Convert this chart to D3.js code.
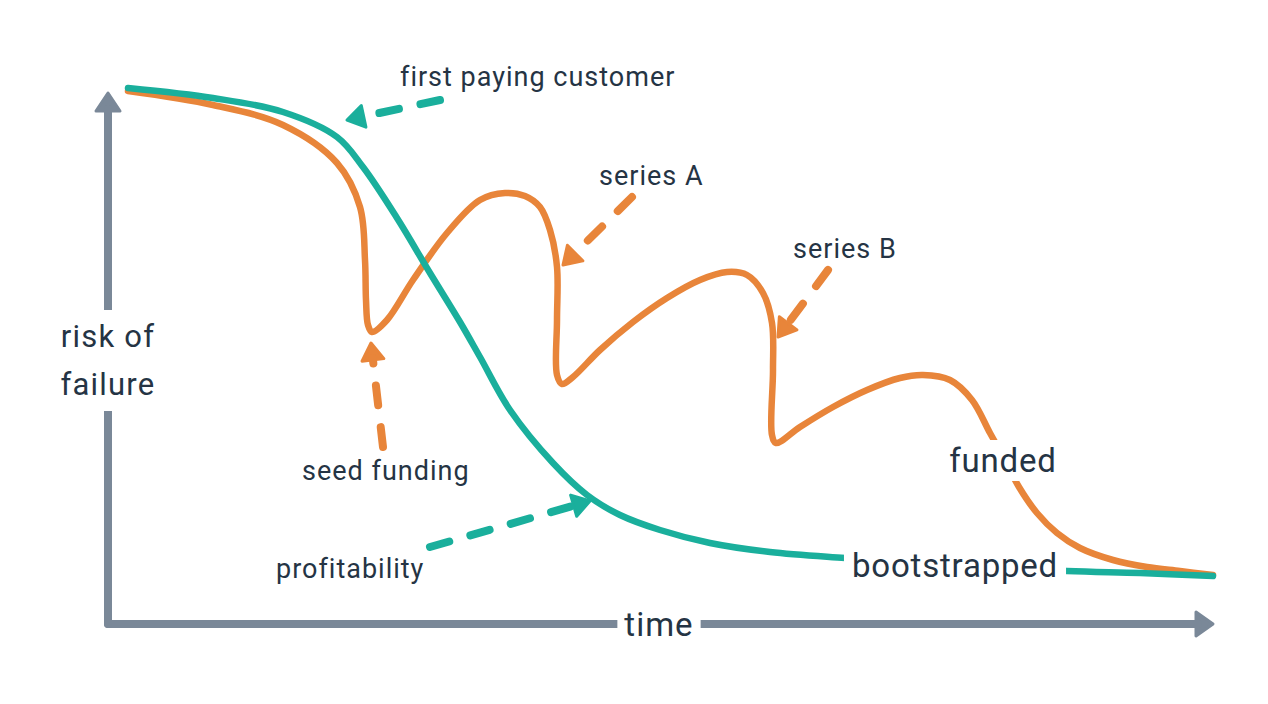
<!DOCTYPE html>
<html>
<head>
<meta charset="utf-8">
<script src="https://cdn.jsdelivr.net/npm/d3@7"></script>
<style>
  html, body { margin: 0; padding: 0; background: #ffffff; }
  svg { display: block; }
</style>
</head>
<body>
<svg id="chart" width="1268" height="704"></svg>
<script>
// ---------- DATA (time units on x, risk units on y) ----------
const bootstrappedTime = [2.0, 10.5, 17.5, 22.9, 25.5, 28.9, 32.2, 35.2, 37.2, 40.2, 44.5, 47.9, 51.2, 55.2, 60.2, 66.2, 73.7, 84.7, 95.9, 103.2, 110.5];
const bootstrappedRisk = [107.2, 105.2, 102.4, 97.4, 91.4, 81.2, 70.2, 60.4, 53.4, 42.8, 32.2, 25.8, 21.8, 18.8, 16.2, 14.4, 13.2, 11.8, 10.6, 10.2, 9.6];

const fundedTime = [2.0, 10.5, 17.5, 22.9, 25.2, 25.7, 25.8, 26.0, 26.4, 27.9, 30.5, 33.9, 37.2, 39.7, 41.7, 43.2, 44.2, 44.9, 44.9, 44.9, 45.4, 46.5, 49.2, 52.5, 55.9, 59.2, 61.9, 63.9, 65.5, 66.4, 66.5, 66.4, 66.8, 69.2, 72.5, 75.9, 79.2, 81.5, 84.2, 86.4, 88.2, 89.7, 91.1, 92.9, 94.9, 97.2, 100.5, 103.9, 107.2, 110.5];
const fundedRisk = [106.6, 103.8, 99.8, 92.2, 83.4, 72.8, 64.8, 59.8, 58.4, 60.8, 68.8, 78.2, 84.8, 86.2, 85.6, 83.4, 78.8, 71.4, 60.8, 49.8, 48.0, 49.4, 54.8, 60.4, 65.2, 68.8, 70.4, 69.8, 66.2, 60.2, 50.8, 37.8, 36.2, 39.4, 43.4, 46.8, 49.2, 49.8, 48.8, 44.8, 38.2, 32.8, 27.4, 22.2, 18.2, 15.2, 12.8, 11.4, 10.6, 9.8];

// annotations: label, text anchor point, arrow start, arrow tip (data units)
const annotationLabels = ["first paying customer", "series A", "series B", "seed funding", "profitability"];
const annotationTextTime = [29.2, 49.1, 68.5, 19.4, 16.8];
const annotationTextRisk = [107.6, 87.8, 73.2, 28.8, 9.2];
const annotationFromTime = [33.2, 52.4, 72.0, 27.5, 32.2];
const annotationFromRisk = [104.8, 85.4, 70.8, 35.4, 15.4];
const annotationToTime = [23.9, 45.5, 67.0, 26.3, 48.2];
const annotationToRisk = [100.8, 71.8, 57.4, 56.2, 24.6];
const annotationSeries = ["bootstrapped", "funded", "funded", "funded", "bootstrapped"];

const seriesNames = ["funded", "bootstrapped"];
const seriesLabelTime = [89.5, 84.7];
const seriesLabelRisk = [30.4, 9.4];

const axisTitleX = "time";
const axisTitleY = ["risk of", "failure"];
const axisEndTime = 110.5;
const axisEndRisk = 106.2;

// ---------- STYLE ----------
const COLORS = { bootstrapped: "#1aaf9c", funded: "#e8853a" };
const AXIS_COLOR = "#7a8898";
const TEXT_COLOR = "#253444";
const FONT = "Roboto, 'Open Sans', sans-serif";

const svg = d3.select("#chart");
const x = d3.scaleLinear().domain([0, 110]).range([108, 1208]);
const y = d3.scaleLinear().domain([0, 110]).range([624, 74]);

function arrowHead(g, x0, y0, x1, y1, len, half, color) {
  const dx = x1 - x0, dy = y1 - y0, d = Math.hypot(dx, dy);
  const ux = dx / d, uy = dy / d, nx = -uy, ny = ux;
  const bx = x1 - ux * len, by = y1 - uy * len;
  g.append("path")
    .attr("d", `M${x1},${y1}L${bx + nx * half},${by + ny * half}L${bx - nx * half},${by - ny * half}Z`)
    .attr("fill", color).attr("stroke", color)
    .attr("stroke-width", 3).attr("stroke-linejoin", "round");
  return [bx + ux * 2, by + uy * 2];
}

// ---------- AXES ----------
const axisG = svg.append("g");
const xEnd = arrowHead(axisG, x(0), y(0), x(axisEndTime), y(0), 17, 12, AXIS_COLOR);
axisG.append("line")
  .attr("x1", x(0)).attr("y1", y(0)).attr("x2", xEnd[0]).attr("y2", y(0))
  .attr("stroke", AXIS_COLOR).attr("stroke-width", 8).attr("stroke-linecap", "round");
const yEnd = arrowHead(axisG, x(0), y(0), x(0), y(axisEndRisk), 18, 12, AXIS_COLOR);
axisG.append("line")
  .attr("x1", x(0)).attr("y1", y(0)).attr("x2", x(0)).attr("y2", yEnd[1])
  .attr("stroke", AXIS_COLOR).attr("stroke-width", 8).attr("stroke-linecap", "round");

// ---------- SERIES ----------
const line = d3.line().x(d => x(d[0])).y(d => y(d[1])).curve(d3.curveCatmullRom.alpha(0.5));
const fundedPts = fundedTime.map((t, i) => [t, fundedRisk[i]]);
const bootPts = bootstrappedTime.map((t, i) => [t, bootstrappedRisk[i]]);

svg.append("path").datum(fundedPts).attr("d", line)
  .attr("fill", "none").attr("stroke", COLORS.funded).attr("stroke-width", 6.5)
  .attr("stroke-linecap", "round").attr("stroke-linejoin", "round");
svg.append("path").datum(bootPts).attr("d", line)
  .attr("fill", "none").attr("stroke", COLORS.bootstrapped).attr("stroke-width", 6.5)
  .attr("stroke-linecap", "round").attr("stroke-linejoin", "round");

// ---------- MASKED LABELS (series names and axis titles) ----------
const maskG = svg.append("g");
const labelG = svg.append("g");

function maskedLabel(lines, cx, baseline, size, spacing, padX, padY, lineGap) {
  const t = labelG.append("text")
    .attr("text-anchor", "middle")
    .attr("font-family", FONT).attr("font-size", size)
    .attr("letter-spacing", spacing)
    .attr("fill", TEXT_COLOR);
  lines.forEach((s, i) => {
    t.append("tspan").attr("x", cx).attr("y", baseline + i * lineGap).text(s);
  });
  const b = t.node().getBBox();
  maskG.append("rect")
    .attr("x", b.x - padX).attr("y", b.y - padY)
    .attr("width", b.width + 2 * padX).attr("height", b.height + 2 * padY)
    .attr("fill", "#ffffff");
}

maskedLabel([axisTitleX], 659, 636, 33, 1, 7, 2, 0);
maskedLabel(axisTitleY, x(0), 347, 31, 1.2, 6, 8, 48);
seriesNames.forEach((name, i) => {
  maskedLabel([name], x(seriesLabelTime[i]), y(seriesLabelRisk[i]), 33, 0.8, 8, 1, 0);
});

// ---------- ANNOTATIONS ----------
const annG = svg.append("g");
annotationLabels.forEach((label, i) => {
  const color = COLORS[annotationSeries[i]];
  const x0 = x(annotationFromTime[i]), y0 = y(annotationFromRisk[i]);
  const x1 = x(annotationToTime[i]), y1 = y(annotationToRisk[i]);
  const base = arrowHead(annG, x0, y0, x1, y1, 17, 11, color);
  annG.append("line")
    .attr("x1", x0).attr("y1", y0).attr("x2", base[0]).attr("y2", base[1])
    .attr("stroke", color).attr("stroke-width", 8)
    .attr("stroke-linecap", "round").attr("stroke-dasharray", "20,22");
  annG.append("text")
    .attr("x", x(annotationTextTime[i])).attr("y", y(annotationTextRisk[i]))
    .attr("font-family", FONT).attr("font-size", 27)
    .attr("letter-spacing", 1)
    .attr("fill", TEXT_COLOR).text(label);
});
</script>
</body>
</html>
